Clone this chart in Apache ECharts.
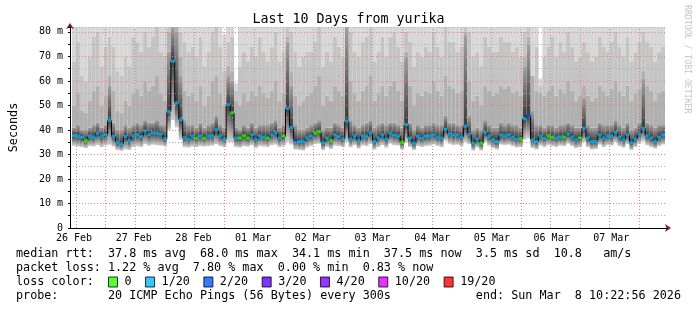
<!DOCTYPE html>
<html><head><meta charset="utf-8">
<script src="https://cdn.jsdelivr.net/npm/echarts@6/dist/echarts.min.js"></script>
<style>html,body{margin:0;padding:0;background:#fff}#c{width:697px;height:310px}</style>
</head><body><div id="c"></div>
<script>
// ---------- data ----------
const dayLabels = ['26 Feb','27 Feb','28 Feb','01 Mar','02 Mar','03 Mar','04 Mar','05 Mar','06 Mar','07 Mar'];
const noonTimes = ['2026-02-26T12:00:00Z','2026-02-27T12:00:00Z','2026-02-28T12:00:00Z','2026-03-01T12:00:00Z','2026-03-02T12:00:00Z',
                   '2026-03-03T12:00:00Z','2026-03-04T12:00:00Z','2026-03-05T12:00:00Z','2026-03-06T12:00:00Z','2026-03-07T12:00:00Z'];
const midnightTimes = ['2026-02-27T00:00:00Z','2026-02-28T00:00:00Z','2026-03-01T00:00:00Z','2026-03-02T00:00:00Z','2026-03-03T00:00:00Z',
                       '2026-03-04T00:00:00Z','2026-03-05T00:00:00Z','2026-03-06T00:00:00Z','2026-03-07T00:00:00Z','2026-03-08T00:00:00Z'];
const startTime = '2026-02-26T10:22:56Z';
const endTime = '2026-03-08T10:22:56Z';
const stepMinutes = 96;

// median rtt (ms) per step
const med = [
 37.7,37.3,37.0,35.7,37.4,37.1,38.7,37.4,38.0,43.9,
 37.3,35.0,34.2,37.3,35.7,37.6,38.0,37.3,39.6,38.0,
 38.7,38.7,38.4,36.3,47.5,68.0,51.0,44.2,36.8,36.3,
 37.4,36.7,37.4,36.7,37.6,37.6,40.0,37.6,36.3,50.3,
 47.0,36.7,36.7,37.6,36.7,38.0,36.0,37.6,37.1,36.7,
 38.0,39.0,36.7,37.4,48.8,41.0,35.9,35.3,35.3,36.7,
 37.4,38.7,39.2,34.8,36.7,35.7,38.0,37.4,36.3,43.6,
 36.3,37.6,35.7,37.6,37.4,38.7,35.3,36.7,38.0,36.3,
 38.7,38.0,37.6,34.9,42.2,36.7,34.6,37.4,36.7,37.4,
 37.6,38.0,37.1,36.7,40.3,38.4,38.0,38.0,37.1,41.5,
 38.3,34.6,36.3,34.6,39.0,37.4,36.0,35.3,38.0,37.6,
 38.0,37.1,36.3,36.3,44.6,45.8,36.0,35.3,37.4,36.7,
 37.6,37.1,36.7,37.1,37.1,38.4,37.1,36.0,36.7,40.7,
 36.7,35.3,35.3,38.0,36.7,37.6,37.4,39.0,37.1,36.0,
 38.0,34.9,36.3,38.4,40.6,37.6,36.7,35.3,37.1,38.0];
// loss level per step: index into lossNames
const loss = [
 1,1,1,0,1,1,1,1,1,1, 1,1,1,1,1,1,1,1,1,1, 1,1,1,1,1,1,1,1,1,1,
 1,0,1,0,1,1,1,1,1,1, 0,1,0,0,0,1,1,1,1,0, 1,1,1,0,1,1,2,1,1,1,
 1,0,0,1,1,0,1,1,1,1, 1,1,1,1,1,1,1,1,1,1, 1,1,1,0,1,1,1,1,1,1,
 1,1,1,1,1,1,1,1,1,1, 1,1,1,0,1,1,1,1,1,1, 1,1,1,0,1,2,1,1,1,1,
 0,0,1,1,0,1,1,1,0,1, 1,1,1,1,1,1,1,1,1,1, 1,1,1,1,1,1,1,1,1,1];
// smoke: lowest ping, and upper band edges (ms)
const lo = [
 33.5,33.2,33.0,32.6,33.4,33.3,33.8,33.0,33.6,34.0,
 33.2,31.8,31.5,32.0,31.8,33.0,33.4,33.0,34.2,33.6,
 34.0,33.8,33.6,33.4,40.0,44.0,41.0,36.0,33.0,32.8,
 33.2,33.0,33.4,33.2,33.4,33.6,34.2,33.4,33.0,35.0,
 35.0,33.0,32.8,33.4,33.2,33.8,32.6,33.4,33.2,33.0,
 33.8,34.0,33.0,33.4,35.0,34.0,32.0,31.8,31.6,32.8,
 33.4,34.2,34.4,31.8,33.0,32.2,33.6,33.4,33.0,35.0,
 33.0,33.8,32.4,33.6,33.4,34.2,32.0,33.0,33.8,32.8,
 34.4,33.8,33.6,32.0,35.0,33.0,31.8,33.4,33.0,33.4,
 33.6,34.0,33.4,33.0,35.6,34.4,33.8,34.0,33.4,35.0,
 34.2,31.6,32.8,31.6,35.0,33.6,32.6,32.0,34.0,33.8,
 34.0,33.4,32.8,33.0,36.0,36.5,32.6,32.0,33.6,33.0,
 33.8,33.4,33.0,33.6,33.4,34.4,33.4,32.6,33.0,35.0,
 33.0,32.0,32.2,34.0,33.0,33.8,33.6,35.0,33.4,32.8,
 34.2,31.8,33.0,34.4,35.4,33.8,33.0,32.4,33.4,34.0];
const u1 = [
 41,42,40,40,41,42,43,41,42,58, 43,40,40,42,41,42,43,42,44,43,
 43,44,42,42,72,82,80,62,44,42, 42,41,43,41,42,43,46,42,41,62,
 60,41,40,42,41,43,41,42,42,42, 43,44,41,42,76,58,42,40,40,41,
 42,43,44,40,41,41,43,42,41,82, 44,42,41,42,43,44,41,42,43,42,
 43,43,42,41,70,43,40,42,41,42, 42,43,42,42,46,43,43,42,42,79,
 46,40,41,40,44,42,41,41,43,42, 43,42,42,41,66,75,48,42,42,41,
 42,42,41,42,42,43,42,41,41,53, 42,41,41,43,42,42,42,44,42,41,
 43,40,41,43,61,43,42,41,42,42];
const u2 = [
 50,55,48,47,52,56,58,50,54,62, 56,48,47,52,50,55,57,54,60,56,
 58,62,55,52,80,82,82,70,56,54, 55,52,58,50,54,60,62,55,50,66,
 64,52,50,55,52,56,54,58,55,53, 56,60,52,55,78,64,54,50,52,54,
 55,58,62,50,54,52,58,56,54,82, 60,55,52,56,58,62,52,55,58,54,
 58,60,56,52,72,58,50,55,54,56, 55,60,56,54,62,58,57,55,56,80,
 60,52,54,50,58,56,54,55,58,57, 58,55,56,54,70,78,62,56,55,54,
 56,58,54,57,55,60,56,52,54,58, 54,52,53,58,56,54,57,60,56,54,
 58,52,55,57,64,58,56,52,55,56];
const u3 = [
 68,76,62,60,70,78,80,66,74,78, 74,64,62,70,66,78,76,72,80,74,
 78,82,72,70,82,82,82,80,76,72, 74,70,78,66,72,80,82,74,64,76,
 78,56,66,72,68,74,70,78,72,68, 74,80,68,72,82,80,72,66,70,72,
 72,76,82,66,72,68,78,74,70,82, 80,72,70,76,78,82,68,72,78,70,
 78,80,74,68,80,76,66,72,70,74, 72,80,74,70,82,76,76,72,74,82,
 80,70,72,66,78,74,72,72,78,76, 76,72,74,70,80,82,62,74,58,70,
 74,78,70,76,72,80,74,68,70,76, 72,68,70,78,74,72,76,80,74,70,
 78,68,72,76,80,76,74,68,72,74];
const maxPing = [
 90,90,90,90,90,90,90,90,90,90, 90,90,90,90,90,90,90,90,90,90,
 90,90,90,86,90,90,90,90,90,90, 90,90,90,90,90,90,90,90,79,90,
 90,59,90,90,90,90,90,90,90,90, 90,90,90,90,90,90,90,90,90,90,
 90,90,90,90,90,90,90,90,90,90, 90,90,90,90,90,90,90,90,90,90,
 90,90,90,90,90,90,90,90,90,90, 90,90,90,90,90,90,90,90,90,90,
 90,90,90,90,90,90,90,90,90,90, 90,90,90,90,90,90,90,90,61,90,
 90,90,90,90,90,90,90,90,90,90, 90,90,90,90,90,90,90,90,90,90,
 90,90,90,90,90,90,90,90,90,90];

const lossNames = ['0','1/20','2/20','3/20','4/20','10/20','19/20'];
const lossColors = ['#26ff00','#00b8ff','#0059ff','#5e00ff','#7e00ff','#dd00ff','#ff0000'];

const legendLines = [
 'median rtt:  37.8 ms avg  68.0 ms max  34.1 ms min  37.5 ms now  3.5 ms sd  10.8   am/s',
 'packet loss: 1.22 % avg  7.80 % max  0.00 % min  0.83 % now',
 'loss color:',
 'probe:       20 ICMP Echo Pings (56 Bytes) every 300s            end: Sun Mar  8 10:22:56 2026'
];

// ---------- build ----------
const FONT = '"DejaVu Sans Mono", monospace';
const t0 = Date.parse(startTime), t1 = Date.parse(endTime);
const stepMs = stepMinutes * 60000;
const times = med.map((_, i) => t0 + (i + 0.5) * stepMs);
const noonMs = noonTimes.map(s => Date.parse(s));
const midMs = midnightTimes.map(s => Date.parse(s));
const pairs = arr => arr.map((v, i) => [times[i], v]);
const diff = (a, b) => a.map((v, i) => [times[i], +(v - b[i]).toFixed(2)]);
const grad = (c0, c1) => new echarts.graphic.LinearGradient(0, 0, 0, 1, [{offset: 0, color: c0}, {offset: 1, color: c1}]);

const smoke = [
  {d: pairs(lo), c: 'rgba(0,0,0,0)'},
  {d: diff(med, lo), c: grad('#404040', '#d0d0d0')},
  {d: diff(u1, med), c: grad('#a0a0a0', '#3a3a3a')},
  {d: diff(u2, u1), c: '#b0b0b0'},
  {d: diff(u3, u2), c: '#c4c4c4'},
  {d: diff(maxPing, u3), c: '#d7d7d7'}
];

const series = smoke.map((s, k) => ({
  type: 'bar', name: 'smoke' + k, stack: 'smoke', barWidth: 4, data: s.d, z: 1,
  itemStyle: {color: s.c, borderWidth: 0}, silent: true, clip: true
}));

series.push({
  type: 'line', name: 'grid', data: [], z: 3, silent: true,
  markLine: {
    silent: true, symbol: ['none', 'none'], label: {show: false}, animation: false,
    data: midMs.map(v => ({xAxis: v, lineStyle: {color: '#f08080', type: [1, 2], width: 1}}))
      .concat(noonMs.map(v => ({xAxis: v, lineStyle: {color: '#a0a0a0', type: [1, 2], width: 1}})))
  }
});

series.push({
  type: 'line', name: 'median', data: pairs(med), step: 'middle', symbol: 'none', z: 5,
  lineStyle: {color: '#000', width: 1}, silent: true
});

lossNames.forEach((nm, k) => {
  series.push({
    type: 'scatter', name: nm, z: 6, symbol: 'rect', symbolSize: [4, 3],
    itemStyle: {color: lossColors[k]}, silent: true,
    data: med.map((v, i) => loss[i] === k ? [times[i], v] : null).filter(x => x)
  });
});

const option = {
  animation: false,
  backgroundColor: '#fff',
  title: {text: 'Last 10 Days from yurika', left: 'center', top: 13, padding: 0,
          textStyle: {fontFamily: FONT, fontSize: 13.3, fontWeight: 'normal', color: '#000'}},
  grid: {left: 67, right: 30, top: 27, bottom: 82},
  xAxis: [{
    type: 'time', min: t0, max: t1, position: 'bottom', z: 3,
    axisLine: {show: true, lineStyle: {color: '#000'}},
    axisTick: {show: false}, axisLabel: {show: false}, splitLine: {show: false}
  }, {
    type: 'value', min: t0, max: t1, position: 'bottom', z: 2,
    axisLine: {show: true, symbol: ['none', 'arrow'], symbolSize: [6, 6], symbolOffset: [0, 4], lineStyle: {color: '#8b1a1a'}},
    axisTick: {show: false}, splitLine: {show: false},
    axisLabel: {
      customValues: noonMs, margin: 5, fontFamily: FONT, fontSize: 10, color: '#000',
      formatter: v => { const i = noonMs.indexOf(v); return i >= 0 ? dayLabels[i] : ''; }
    }
  }],
  yAxis: [{
    type: 'value', min: 0, max: 82, interval: 5, position: 'left', z: 3,
    name: 'Seconds', nameLocation: 'middle', nameGap: 50, nameRotate: 90,
    nameTextStyle: {fontFamily: FONT, fontSize: 11.75, color: '#000'},
    axisLine: {show: true, lineStyle: {color: '#000'}},
    axisTick: {show: true, length: 2, lineStyle: {color: '#000'}},
    axisLabel: {margin: 7, fontFamily: FONT, fontSize: 10, color: '#000',
      formatter: v => v % 10 === 0 ? (v === 0 ? '0' : v + ' m') : ''},
    splitLine: {show: true, lineStyle: {color: ['#f08080', '#b0b0b0'], type: [1, 2], width: 1}}
  }, {
    type: 'value', min: 0, max: 82, position: 'left', z: 2,
    axisLine: {show: true, symbol: ['none', 'arrow'], symbolSize: [6, 6], symbolOffset: [0, 4], lineStyle: {color: '#8b1a1a'}},
    axisTick: {show: false}, axisLabel: {show: false}, splitLine: {show: false}
  }],
  legend: {
    data: lossNames, left: 108, top: 276, padding: 0, itemWidth: 9, itemHeight: 10, itemGap: 13.5,
    icon: 'rect', selectedMode: false,
    itemStyle: {borderColor: '#000', borderWidth: 1},
    textStyle: {fontFamily: FONT, fontSize: 11.75, color: '#000', padding: [0, 0, 0, 2]}
  },
  graphic: legendLines.map((txt, k) => ({
    type: 'text', x: 16, y: 254 + 14 * k, silent: true,
    style: {text: txt, font: '11.75px ' + FONT, fill: '#000', verticalAlign: 'middle', align: 'left'}
  })).concat([{
    type: 'text', x: 687, y: 5, rotation: -Math.PI / 2, silent: true,
    style: {text: 'RRDTOOL / TOBI OETIKER', font: '8.2px ' + FONT, fill: '#c4c4c4', verticalAlign: 'middle', align: 'left'}
  }]),
  series: series
};

const chart = echarts.init(document.getElementById('c'));
chart.setOption(option);
</script>
</body></html>
